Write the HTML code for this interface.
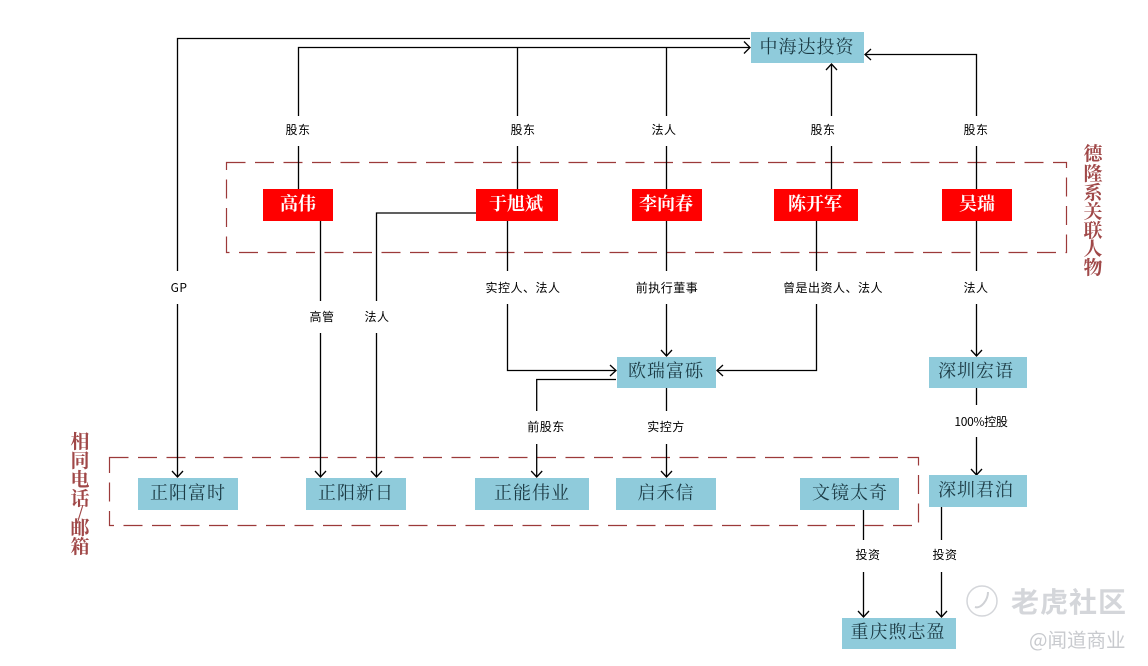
<!DOCTYPE html>
<html><head><meta charset="utf-8"><style>
html,body{margin:0;padding:0;background:#fff}
svg{display:block}
.l{fill:none;stroke:#000;stroke-width:1.3}
.d{fill:none;stroke:#9c3a3a;stroke-width:1.2;stroke-dasharray:19 9.5}
.b{fill:#8fcbdb}
.r{fill:#ff0000}
.bt{font:18px "Noto Serif CJK SC","Liberation Serif",serif;fill:#1c3b45;text-anchor:middle;letter-spacing:1px}
.rt{font:bold 18px "Noto Serif CJK SC","Liberation Serif",serif;fill:#fff;text-anchor:middle}
.lb{font:12px "WenQuanYi Zen Hei","Noto Sans CJK SC",sans-serif;fill:#000;text-anchor:middle;letter-spacing:.5px}
.s{font:bold 19px "Noto Serif CJK SC","Liberation Serif",serif;fill:#a04848;text-anchor:middle}
</style></head><body>
<svg width="1148" height="666" viewBox="0 0 1148 666" xmlns="http://www.w3.org/2000/svg">
<rect width="1148" height="666" fill="#fff"/>
<rect class="d" x="226.5" y="162.5" width="840" height="90"/>
<rect class="d" x="109.5" y="457.5" width="809" height="68"/>
<path class="l" d="M750 38.5H177.5V477M750 47.5H298.5V189M517.5 47.5V189M666.5 47.5V189M831.5 189V64M976.5 189V54.5H865"/>
<path class="l" d="M320.5 221V477M476 213H376.5V477M507.5 221V370.5H616M816.5 221V370.5H717M666.5 221V356M976.5 221V356M616 379.5H536.7V477M666.5 388V477M976.5 388V475M863.5 510V617M941.5 507V617"/>
<path class="l" d="M744 41.5L750 47.5L744 53.5M826 70L831.5 64L837 70M871 49L865 54.5L871 60M172 471L177.5 477L183 471M315 471L320.5 477L326 471M371 471L376.5 477L382 471M610 365L616 370.5L610 376M723 365L717 370.5L723 376M661 350L666.5 356L672 350M971 350L976.5 356L982 350M531.2 471L536.7 477L542.2 471M661 471L666.5 477L672 471M971 469L976.5 475L982 469M858 611L863.5 617L869 611M936 611L941.5 617L947 611"/>
<rect class="b" x="751" y="32" width="113" height="31"/>
<rect class="b" x="617" y="357" width="99" height="31"/>
<rect class="b" x="929" y="357" width="98" height="31"/>
<rect class="b" x="138" y="478" width="100" height="32"/>
<rect class="b" x="306" y="478" width="100" height="32"/>
<rect class="b" x="475" y="478" width="114" height="32"/>
<rect class="b" x="616" y="478" width="100" height="32"/>
<rect class="b" x="800" y="478" width="99" height="32"/>
<rect class="b" x="929" y="475" width="98" height="32"/>
<rect class="b" x="842" y="618" width="114" height="31"/>
<rect class="r" x="263" y="189" width="70" height="32"/>
<rect class="r" x="476" y="189" width="82" height="32"/>
<rect class="r" x="632" y="189" width="70" height="32"/>
<rect class="r" x="774" y="189" width="84" height="32"/>
<rect class="r" x="942" y="189" width="70" height="32"/>
<text class="bt" x="807" y="53">中海达投资</text>
<text class="bt" x="666" y="377">欧瑞富砾</text>
<text class="bt" x="976" y="377">深圳宏语</text>
<text class="bt" x="188" y="499">正阳富时</text>
<text class="bt" x="356" y="499">正阳新日</text>
<text class="bt" x="532" y="499">正能伟业</text>
<text class="bt" x="666" y="499">启禾信</text>
<text class="bt" x="850" y="499">文镜太奇</text>
<text class="bt" x="976" y="496">深圳君泊</text>
<text class="bt" x="898" y="638">重庆煦志盈</text>
<text class="rt" x="298" y="210">高伟</text>
<text class="rt" x="516" y="210">于旭斌</text>
<text class="rt" x="666" y="210">李向春</text>
<text class="rt" x="815" y="210">陈开军</text>
<text class="rt" x="977" y="210">吴瑞</text>
<g fill="#fff">
<rect x="284" y="116" width="28" height="30"/><rect x="508" y="116" width="30" height="30"/><rect x="650" y="116" width="30" height="30"/><rect x="808" y="116" width="30" height="30"/><rect x="963" y="116" width="28" height="30"/>
<rect x="170" y="271" width="20" height="33"/><rect x="482" y="271" width="82" height="33"/><rect x="633" y="271" width="68" height="33"/><rect x="782" y="271" width="104" height="33"/><rect x="963" y="271" width="28" height="33"/>
<rect x="309" y="301" width="27" height="32"/><rect x="363" y="301" width="28" height="32"/>
<rect x="526" y="411" width="42" height="33"/><rect x="646" y="411" width="42" height="33"/><rect x="955" y="405" width="53" height="32"/>
<rect x="854" y="540" width="28" height="32"/><rect x="932" y="540" width="28" height="32"/>
</g>
<text class="lb" x="298" y="134">股东</text><text class="lb" x="523" y="134">股东</text><text class="lb" x="664" y="134">法人</text><text class="lb" x="823" y="134">股东</text><text class="lb" x="976" y="134">股东</text>
<text class="lb" x="179" y="292">GP</text><text class="lb" x="523" y="292">实控人、法人</text><text class="lb" x="667" y="292">前执行董事</text><text class="lb" x="833" y="292">曾是出资人、法人</text><text class="lb" x="976" y="292">法人</text>
<text class="lb" x="322" y="321">高管</text><text class="lb" x="377" y="321">法人</text>
<text class="lb" x="546" y="431">前股东</text><text class="lb" x="666" y="431">实控方</text><text class="lb" x="981" y="426" style="letter-spacing:-.3px">100%控股</text>
<text class="lb" x="868" y="559">投资</text><text class="lb" x="945" y="559">投资</text>
<text class="s" x="1093" y="160">德</text><text class="s" x="1093" y="180">隆</text><text class="s" x="1093" y="199">系</text><text class="s" x="1093" y="218">关</text><text class="s" x="1093" y="237">联</text><text class="s" x="1093" y="255">人</text><text class="s" x="1093" y="274">物</text>
<text class="s" x="80" y="448">相</text><text class="s" x="80" y="467">同</text><text class="s" x="80" y="486">电</text><text class="s" x="80" y="505">话</text><text class="s" x="80" y="520">/</text><text class="s" x="80" y="534">邮</text><text class="s" x="80" y="553">箱</text>
<circle cx="982" cy="601" r="15" fill="none" stroke="#d4d6da" stroke-width="1.5"/>
<path d="M975 607c6 2 13-7 13-15" fill="none" stroke="#cfd1d5" stroke-width="2"/>
<text x="1011" y="612" style="font:bold 28px 'Noto Sans CJK SC',sans-serif;fill:#d4d6da;letter-spacing:1px">老虎社区</text>
<text x="1029" y="647" style="font:19.5px 'Noto Sans CJK SC',sans-serif;fill:#c8cace">@闻道商业</text>
</svg>
</body></html>
